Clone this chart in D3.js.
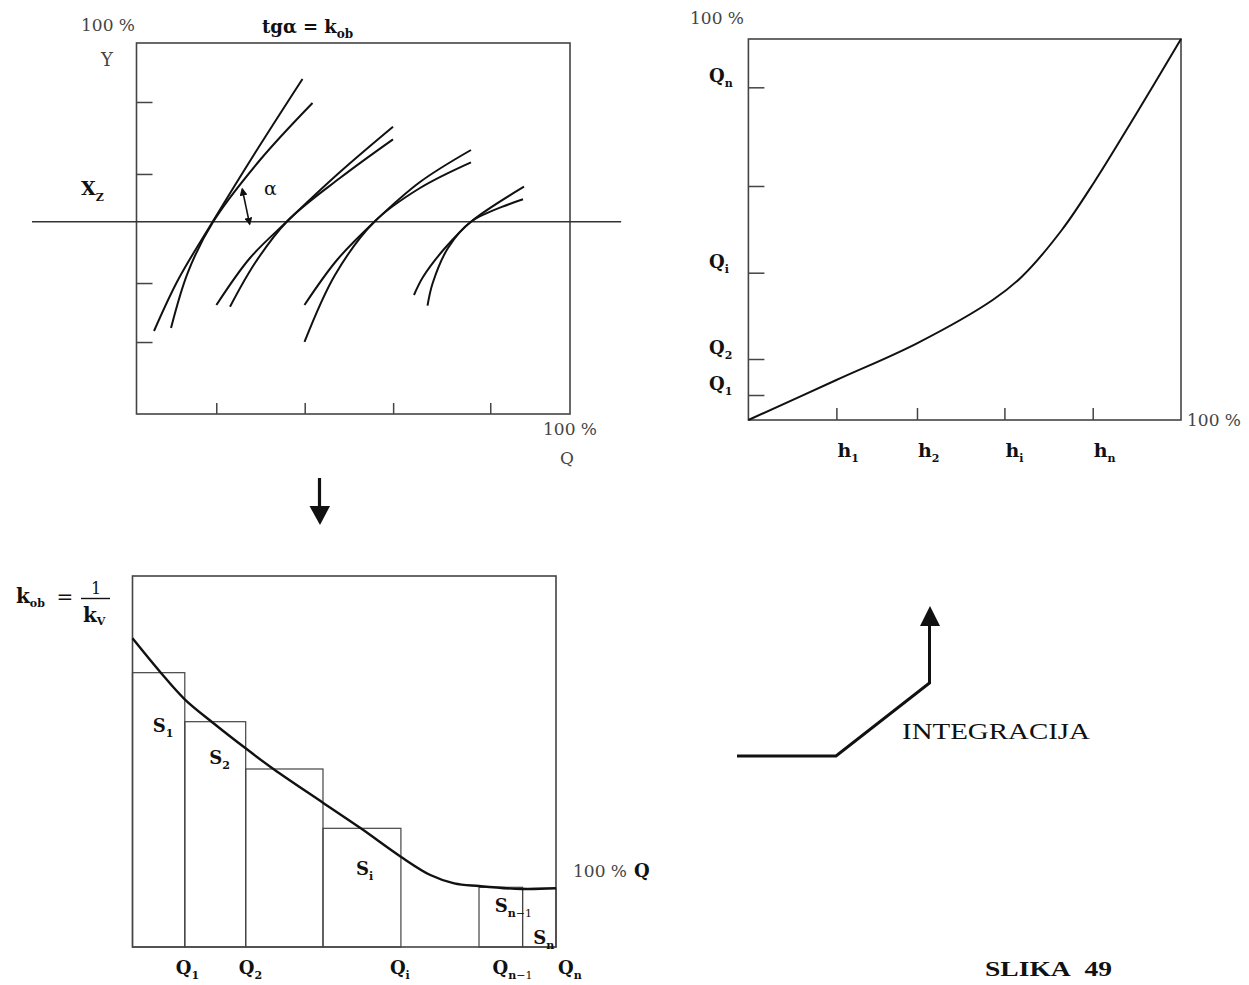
<!DOCTYPE html>
<html>
<head>
<meta charset="utf-8">
<script src="https://cdn.jsdelivr.net/npm/d3@7"></script>
<style>
  body { margin: 0; background: #fff; }
  svg { display: block; }
</style>
</head>
<body>
<div id="chart"></div>
<script>
// ---- data (all in % of each panel's axes) ----

// top-left panel: Y against Q, pairs of calibration curves
const yTicksA = [19.4, 35.3, 64.7, 84.1];
const xTicksA = [18.4, 38.8, 59.2, 81.6];
const xzLevel = 51.8;
const curvesA = [
  [[4.04, 22.37], [9.57, 36.12], [17.53, 51.75], [27.34, 70.35], [38.29, 90.30]],
  [[7.96, 23.18], [11.88, 38.27], [17.65, 51.75], [28.49, 68.46], [40.60, 83.83]],
  [[18.43, 29.38], [26.18, 42.05], [34.65, 51.83], [46.94, 65.23], [59.17, 77.44]],
  [[21.57, 28.92], [27.34, 40.70], [34.65, 51.83], [46.94, 63.61], [59.17, 74.04]],
  [[38.75, 29.38], [46.25, 41.51], [54.88, 51.83], [65.40, 62.53], [77.16, 71.16]],
  [[38.75, 19.41], [45.79, 37.47], [54.88, 51.83], [65.40, 60.92], [77.16, 67.84]],
  [[64.01, 32.08], [66.09, 36.93], [71.17, 44.74], [77.16, 51.83], [89.39, 61.27]],
  [[67.13, 29.19], [68.33, 35.31], [71.86, 44.74], [77.16, 51.83], [89.16, 57.87]]
];

// right panel: integral curve Q(h)
const qTicksB = [87.32, 61.42, 38.66, 16.01, 6.56];
const qLabelsB = [["Q", "n"], null, ["Q", "i"], ["Q", "2"], ["Q", "1"]];
const hTicksB = [20.34, 38.97, 59.18, 79.59];
const hLabelsB = [["h", "1"], ["h", "2"], ["h", "i"], ["h", "n"]];
const curveBx = [0, 20.34, 38.97, 56.47, 63.20, 72.45, 80.00, 89.25, 100];
const curveBy = [0, 10.50, 20.13, 31.50, 37.61, 49.87, 62.55, 79.61, 100];

// bottom panel: k_ob against Q with step areas S
const barLeft = [0, 12.35, 26.73, 44.98, 81.82, 92.11];
const barRight = [12.35, 26.73, 44.98, 63.38, 92.11, 100];
const barK = [73.94, 60.73, 47.98, 31.99, 16.09, 15.82];
const barLabels = [["S", "1"], ["S", "2"], null, ["S", "i"], ["S", "n", "−1"], ["S", "n"]];
const qTicksC = [12.35, 26.73, 63.38, 92.11, 100];
const qLabelsC = [["Q", "1"], ["Q", "2"], ["Q", "i"], ["Q", "n", "−1"], ["Q", "n"]];
const curveCx = [0, 6.68, 12.33, 18.98, 26.71, 33.36, 44.96, 53.91, 63.35, 70.32, 75.96, 81.82, 91.88, 100];
const curveCy = [83.21, 73.94, 66.77, 60.46, 53.56, 47.90, 38.89, 31.99, 24.34, 19.41, 17.17, 16.44, 15.63, 15.82];

// ---- layout ----
const width = 1249, height = 985;
const serif = "'DejaVu Serif', 'Liberation Serif', serif";
const times = "'Liberation Serif', 'Times New Roman', serif";
const ink = "#111";
const frameInk = "#444";

const svg = d3.select("#chart").append("svg")
  .attr("width", width)
  .attr("height", height)
  .attr("viewBox", `0 0 ${width} ${height}`);

const defs = svg.append("defs");
defs.append("marker")
  .attr("id", "head")
  .attr("viewBox", "0 0 10 10")
  .attr("refX", 8).attr("refY", 5)
  .attr("markerWidth", 8).attr("markerHeight", 8)
  .attr("markerUnits", "userSpaceOnUse")
  .attr("orient", "auto-start-reverse")
  .append("path")
  .attr("d", "M0,0 L10,5 L0,10 z")
  .attr("fill", ink);

// text with an optional subscript (and a plain-weight tail on the subscript)
const mathLabel = (g, x, y, parts, o = {}) => {
  const t = g.append("text")
    .attr("x", x).attr("y", y)
    .attr("font-family", o.family || serif)
    .attr("font-size", o.size || 19)
    .attr("font-weight", o.weight || "bold")
    .attr("text-anchor", o.anchor || "start")
    .attr("fill", ink);
  t.append("tspan").text(parts[0]);
  if (parts[1]) {
    t.append("tspan")
      .attr("dy", o.subDy || 6)
      .attr("font-size", o.subSize || 12)
      .text(parts[1]);
  }
  if (parts[2]) {
    t.append("tspan")
      .attr("font-size", o.subSize || 12)
      .attr("font-weight", "normal")
      .text(parts[2]);
  }
  return t;
};

const plainText = (g, x, y, str, o = {}) => g.append("text")
  .attr("x", x).attr("y", y)
  .attr("font-family", o.family || serif)
  .attr("font-size", o.size || 17)
  .attr("font-weight", o.weight || "normal")
  .attr("text-anchor", o.anchor || "start")
  .attr("fill", o.fill || "#444")
  .text(str);

const frame = (g, x, y) => g.append("rect")
  .attr("x", x.range()[0]).attr("y", y.range()[1])
  .attr("width", x.range()[1] - x.range()[0])
  .attr("height", y.range()[0] - y.range()[1])
  .attr("fill", "none")
  .attr("stroke", frameInk)
  .attr("stroke-width", 1.6);

const styleAxis = sel => {
  sel.select(".domain").remove();
  sel.selectAll(".tick line").attr("stroke", frameInk).attr("stroke-width", 1.5);
};

// ================= panel A (top left) =================
const xA = d3.scaleLinear().domain([0, 100]).range([136.5, 570]);
const yA = d3.scaleLinear().domain([0, 100]).range([414, 43]);
const gA = svg.append("g");

frame(gA, xA, yA);

gA.append("g")
  .attr("transform", `translate(${xA(0)},0)`)
  .call(d3.axisLeft(yA).tickValues(yTicksA).tickSize(-16).tickFormat(""))
  .call(styleAxis);

gA.append("g")
  .attr("transform", `translate(0,${yA(0)})`)
  .call(d3.axisBottom(xA).tickValues(xTicksA).tickSize(-11).tickFormat(""))
  .call(styleAxis);

// X_Z reference level
gA.append("line")
  .attr("x1", xA(-24.1)).attr("x2", xA(111.8))
  .attr("y1", yA(xzLevel)).attr("y2", yA(xzLevel))
  .attr("stroke", "#333")
  .attr("stroke-width", 1.4);

const lineA = d3.line()
  .x(d => xA(d[0]))
  .y(d => yA(d[1]))
  .curve(d3.curveCatmullRom.alpha(0.5));

gA.selectAll(".curveA")
  .data(curvesA)
  .join("path")
  .attr("class", "curveA")
  .attr("d", lineA)
  .attr("fill", "none")
  .attr("stroke", ink)
  .attr("stroke-width", 2);

// angle alpha arrow
gA.append("line")
  .attr("x1", xA(24.4)).attr("y1", yA(60.6))
  .attr("x2", xA(26.1)).attr("y2", yA(51.2))
  .attr("stroke", ink)
  .attr("stroke-width", 1.6)
  .attr("marker-start", "url(#head)")
  .attr("marker-end", "url(#head)");

plainText(gA, 264, 195, "α", { size: 19, fill: ink });
plainText(svg, 81, 31, "100 %");
mathLabel(svg, 262, 33, ["tgα = k", "ob"], { size: 18, subDy: 5, subSize: 12 });
plainText(svg, 107, 66, "Y", { anchor: "middle", size: 18 });
mathLabel(svg, 81, 195, ["X", "Z"], { size: 19, subDy: 6, subSize: 11 });
plainText(svg, 543, 435, "100 %");
plainText(svg, 567, 464, "Q", { anchor: "middle" });

// down arrow to the lower panel
svg.append("line")
  .attr("x1", 319.5).attr("x2", 319.5)
  .attr("y1", 478).attr("y2", 508)
  .attr("stroke", ink).attr("stroke-width", 3.2);
svg.append("path")
  .attr("d", "M309.5,506 L330,506 L320,525 Z")
  .attr("fill", ink);

// ================= panel B (top right) =================
const xB = d3.scaleLinear().domain([0, 100]).range([748.4, 1181]);
const yB = d3.scaleLinear().domain([0, 100]).range([420, 39]);
const gB = svg.append("g");

frame(gB, xB, yB);

gB.append("g")
  .attr("transform", `translate(${xB(0)},0)`)
  .call(d3.axisLeft(yB).tickValues(qTicksB).tickSize(-16).tickFormat(""))
  .call(styleAxis);

gB.append("g")
  .attr("transform", `translate(0,${yB(0)})`)
  .call(d3.axisBottom(xB).tickValues(hTicksB).tickSize(-12).tickFormat(""))
  .call(styleAxis);

const lineB = d3.line()
  .x(d => xB(d[0]))
  .y(d => yB(d[1]))
  .curve(d3.curveCatmullRom.alpha(0.5));

gB.append("path")
  .datum(curveBx.map((x, i) => [x, curveBy[i]]))
  .attr("d", lineB)
  .attr("fill", "none")
  .attr("stroke", ink)
  .attr("stroke-width", 2);

qTicksB.forEach((q, i) => {
  if (qLabelsB[i]) mathLabel(gB, 709, yB(q) - 5, qLabelsB[i], { size: 18, subDy: 5, subSize: 11 });
});
hTicksB.forEach((h, i) => {
  mathLabel(gB, xB(h) + 1, 457, hLabelsB[i], { size: 19, subDy: 5, subSize: 11 });
});

plainText(svg, 690, 24, "100 %");
plainText(svg, 1187, 426, "100 %");

// ================= panel C (bottom left) =================
const xC = d3.scaleLinear().domain([0, 100]).range([132.5, 556]);
const yC = d3.scaleLinear().domain([0, 100]).range([947, 576]);
const gC = svg.append("g");

frame(gC, xC, yC);

gC.selectAll(".bar")
  .data(barK)
  .join("rect")
  .attr("class", "bar")
  .attr("x", (d, i) => xC(barLeft[i]))
  .attr("y", d => yC(d))
  .attr("width", (d, i) => xC(barRight[i]) - xC(barLeft[i]))
  .attr("height", d => yC(0) - yC(d))
  .attr("fill", "none")
  .attr("stroke", frameInk)
  .attr("stroke-width", 1.2);

const lineC = d3.line()
  .x(d => xC(d[0]))
  .y(d => yC(d[1]))
  .curve(d3.curveCatmullRom.alpha(0.5));

gC.append("path")
  .datum(curveCx.map((x, i) => [x, curveCy[i]]))
  .attr("d", lineC)
  .attr("fill", "none")
  .attr("stroke", ink)
  .attr("stroke-width", 2.4);

// S labels inside the steps (drop below the step top, in px)
const sLabelDrop = [59, 42, 0, 47, 25, 0];
barLabels.forEach((lab, i) => {
  if (!lab) return;
  const cx = (xC(barLeft[i]) + xC(barRight[i])) / 2;
  const y = i === barLabels.length - 1 ? 944 : yC(barK[i]) + sLabelDrop[i];
  mathLabel(gC, cx - 6, y, lab, { size: 18, subDy: 5, subSize: 11 });
});

// Q labels under the axis
const qLabelShift = [-9, -7, -11, -30, 2];
qTicksC.forEach((q, i) => {
  mathLabel(gC, xC(q) + qLabelShift[i], 974, qLabelsC[i], { size: 18, subDy: 5, subSize: 11 });
});

plainText(svg, 573, 877, "100 %");
mathLabel(svg, 634, 877, ["Q"], { size: 18 });

// k_ob = 1 / k_V
mathLabel(svg, 16, 603, ["k", "ob"], { size: 20, subDy: 4, subSize: 11 });
plainText(svg, 65, 604, "=", { anchor: "middle", size: 20, fill: ink });
plainText(svg, 96, 594, "1", { anchor: "middle", size: 16, fill: ink });
svg.append("line")
  .attr("x1", 81).attr("x2", 110)
  .attr("y1", 598.5).attr("y2", 598.5)
  .attr("stroke", ink).attr("stroke-width", 1.4);
mathLabel(svg, 83, 622, ["k", "V"], { size: 20, subDy: 3, subSize: 11 });

// ================= integration arrow =================
svg.append("path")
  .attr("d", "M737,756 L836,756 L929.5,683 L929.5,624")
  .attr("fill", "none")
  .attr("stroke", ink)
  .attr("stroke-width", 3);
svg.append("path")
  .attr("d", "M920,626 L940,626 L930,606 Z")
  .attr("fill", ink);

plainText(svg, 902, 739, "INTEGRACIJA", { family: times, size: 24, fill: ink })
  .attr("textLength", 188)
  .attr("lengthAdjust", "spacingAndGlyphs");

plainText(svg, 985, 976, "SLIKA\u00a0\u00a049", { family: times, size: 21, weight: "bold", fill: ink })
  .attr("textLength", 127)
  .attr("lengthAdjust", "spacingAndGlyphs");
</script>
</body>
</html>
